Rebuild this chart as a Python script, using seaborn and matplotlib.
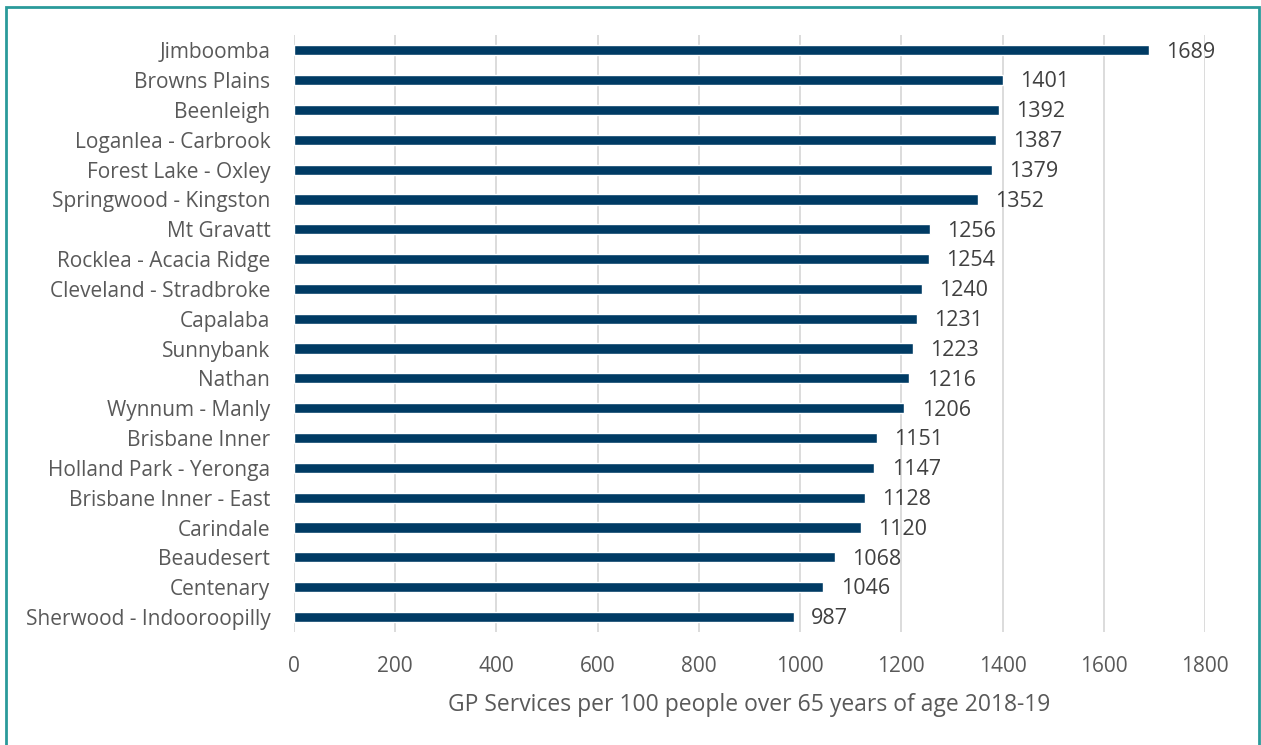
import matplotlib
matplotlib.use("Agg")
import matplotlib.pyplot as plt
import seaborn as sns
import pandas as pd
from matplotlib.patches import Rectangle

# Dados
regioes = ["Jimboomba", "Browns Plains", "Beenleigh", "Loganlea - Carbrook",
           "Forest Lake - Oxley", "Springwood - Kingston", "Mt Gravatt",
           "Rocklea - Acacia Ridge", "Cleveland - Stradbroke", "Capalaba",
           "Sunnybank", "Nathan", "Wynnum - Manly", "Brisbane Inner",
           "Holland Park - Yeronga", "Brisbane Inner - East", "Carindale",
           "Beaudesert", "Centenary", "Sherwood - Indooroopilly"]
servicos = [1689, 1401, 1392, 1387, 1379, 1352, 1256, 1254, 1240, 1231,
            1223, 1216, 1206, 1151, 1147, 1128, 1120, 1068, 1046, 987]
ticks_x = [0, 200, 400, 600, 800, 1000, 1200, 1400, 1600, 1800]

df = pd.DataFrame({"regiao": regioes, "servicos": servicos})

sns.set_style("white")
plt.rcParams["font.family"] = ["Open Sans", "DejaVu Sans"]

fig = plt.figure(figsize=(12.61, 7.45), dpi=100)
ax = fig.add_axes([0.2331, 0.1518, 0.7225, 0.8007])

sns.barplot(data=df, x="servicos", y="regiao", color="#003B64",
            width=0.34, saturation=1, ax=ax)

# Rótulos de valor
for i, v in enumerate(servicos):
    ax.text(v + 34, i + 0.06, str(v), va="center", ha="left", fontsize=15.5, color="#404040")

ax.set_xlim(0, 1800)
ax.set_xticks(ticks_x)
ax.xaxis.grid(True, color="#D9D9D9", linewidth=1.3)
ax.set_axisbelow(True)
for s in ax.spines.values():
    s.set_visible(False)
ax.tick_params(axis="y", length=0, labelsize=15, colors="#595959", pad=17)
ax.tick_params(axis="x", length=0, labelsize=15, colors="#595959", pad=17)
ax.set_ylabel("")
ax.set_xlabel("GP Services per 100 people over 65 years of age 2018-19",
              fontsize=16.5, color="#595959", labelpad=12)

# Moldura
fig.patches.append(Rectangle((6 / 1261, -0.01), 1253 / 1261, 1 - 7 / 745 + 0.01,
                             transform=fig.transFigure, fill=False,
                             edgecolor="#2A9A9A", linewidth=2))

fig.savefig("out.png", dpi=100)
